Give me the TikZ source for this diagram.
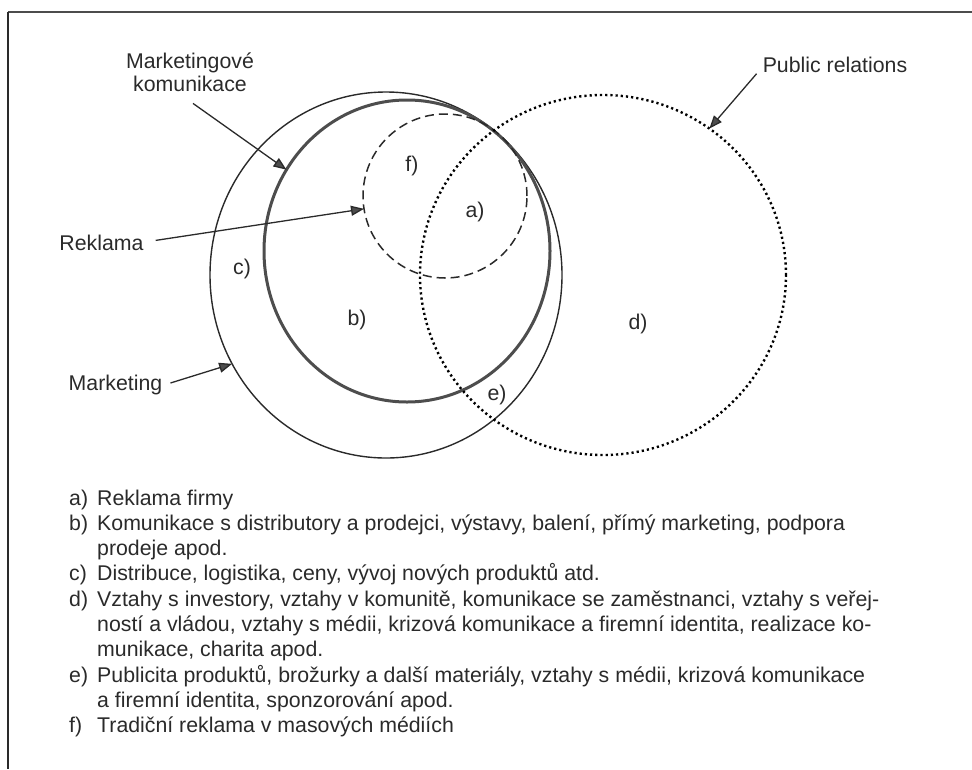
\documentclass[tikz,border=0pt]{standalone}
\usepackage{fontspec}
\setmainfont{Liberation Sans}
\usetikzlibrary{shapes.geometric,arrows.meta}
\definecolor{ink}{HTML}{2A2A2A}
\definecolor{thickgray}{HTML}{4D4D4D}
\begin{document}
\begin{tikzpicture}[x=1pt,y=-1pt,
  font=\fontsize{21.3}{25.3}\selectfont,
  ring/.style={ellipse, inner sep=0pt, outer sep=0pt},
  mktring/.style={ring, draw=ink, line width=1.4pt},
  mkring/.style={ring, draw=thickgray, line width=3pt},
  adring/.style={ring, draw=ink, line width=1.5pt, dash pattern=on 9pt off 5pt},
  prring/.style={ring, draw=black, line width=2.4pt, dash pattern=on 2.2pt off 3pt},
  arr/.style={draw=ink, line width=1.3pt, -{Triangle[length=13pt,width=10pt,fill=thickgray]}},
  lbl/.style={text=ink, inner sep=0pt, anchor=base},
  leg/.style={text=ink, inner sep=0pt, anchor=base west},
  frameline/.style={draw=ink},
]
\useasboundingbox (0,0) rectangle (972,769);
% frame
\draw[frameline, line width=2pt, draw=gray!60!black] (8,12) -- (972,12);
\draw[frameline, line width=1.2pt] (8,12) -- (8,769);

% circles
\node[mktring, minimum width=352pt, minimum height=366pt] (mkt) at (386,275) {};
\node[mkring, minimum width=286pt, minimum height=302pt] (mk) at (407,251) {};
\node[adring, minimum size=164pt] (ad) at (445,196) {};
\node[prring, minimum width=366pt, minimum height=360pt] (pr) at (603,275) {};

% region labels
\node[lbl] (lf) at (412,171.5) {f)};
\node[lbl] (la) at (475,217.5) {a)};
\node[lbl] (lb) at (357,325.5) {b)};
\node[lbl] (lc) at (242,274.5) {c)};
\node[lbl] (ld) at (638,329.5) {d)};
\node[lbl] (le) at (497,400.5) {e)};

% outer labels
\node[lbl] (mk1) at (190,68) {Marketingové};
\node[lbl] (mk2) at (190,91) {komunikace};
\node[lbl] (rk) at (101.5,250) {Reklama};
\node[lbl] (mg) at (115.5,390.5) {Marketing};
\node[lbl] (prl) at (835,72.3) {Public relations};

% arrows
\draw[arr] ([shift={(3,12)}]mk2.south) -- (mk.146);
\draw[arr] ([shift={(12,-2)}]rk.east) -- (ad.189);
\draw[arr] ([shift={(8,-2)}]mg.east) -- (mkt.210);
\draw[arr] ([shift={(-6,1)}]prl.south west) -- (pr.54);

% legend
\node[leg] (ia) at (69,505) {a)};
\node[leg] (ta) at (97,505) {Reklama firmy};
\node[leg] (ib) at (69,530.3) {b)};
\node[leg] (tb1) at (97,530.3) {Komunikace s distributory a prodejci, výstavy, balení, přímý marketing, podpora};
\node[leg] (tb2) at (97,555.6) {prodeje apod.};
\node[leg] (ic) at (69,580.9) {c)};
\node[leg] (tc) at (97,580.9) {Distribuce, logistika, ceny, vývoj nových produktů atd.};
\node[leg] (id) at (69,606.2) {d)};
\node[leg] (td1) at (97,606.2) {Vztahy s investory, vztahy v komunitě, komunikace se zaměstnanci, vztahy s veřej-};
\node[leg] (td2) at (97,631.5) {ností a vládou, vztahy s médii, krizová komunikace a firemní identita, realizace ko-};
\node[leg] (td3) at (97,656.8) {munikace, charita apod.};
\node[leg] (ie) at (69,682.1) {e)};
\node[leg] (te1) at (97,682.1) {Publicita produktů, brožurky a další materiály, vztahy s médii, krizová komunikace};
\node[leg] (te2) at (97,707.4) {a firemní identita, sponzorování apod.};
\node[leg] (if) at (69,732.7) {f)};
\node[leg] (tf) at (97,732.7) {Tradiční reklama v masových médiích};
\end{tikzpicture}
\end{document}
